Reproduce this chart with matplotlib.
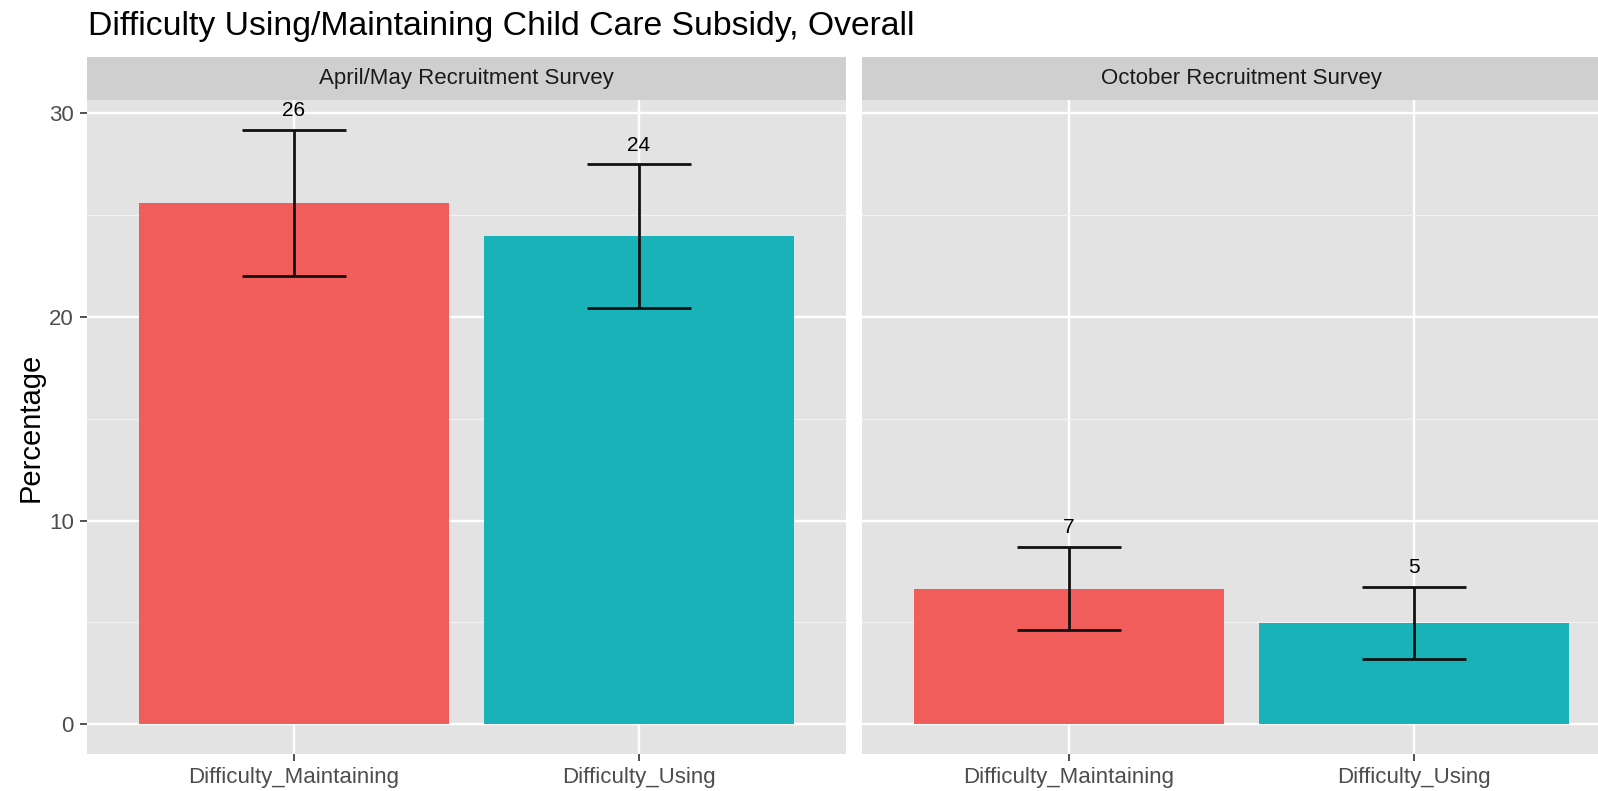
import matplotlib
matplotlib.use("Agg")
import matplotlib.pyplot as plt
import numpy as np

plt.rcParams['font.family'] = ['Liberation Sans', 'DejaVu Sans']

# ---- data ----
title = "Difficulty Using/Maintaining Child Care Subsidy, Overall"
panels = ["April/May Recruitment Survey", "October Recruitment Survey"]
categories = ["Difficulty_Maintaining", "Difficulty_Using"]
values = [[25.6, 24.0], [6.65, 4.95]]
lower = [[22.0, 20.45], [4.65, 3.2]]
upper = [[29.2, 27.5], [8.7, 6.75]]
labels = [["26", "24"], ["7", "5"]]
y_ticks = [0, 10, 20, 30]
y_minor = [5, 15, 25]
colors = ["#F05D5B", "#19B2B8"]

W, H = 1598, 791
fig = plt.figure(figsize=(W / 100, H / 100), dpi=100)
fig.patch.set_facecolor("white")

ymax_all = max(max(u) for u in upper)
ymin_all = 0
rng = ymax_all - ymin_all
ylim = (ymin_all - 0.05 * rng, ymax_all + 0.05 * rng)

panel_left = [87, 862]
panel_w = 759
panel_top, panel_bot = 100, 754
strip_top = 57

x = np.arange(len(categories))
for p, name in enumerate(panels):
    l = panel_left[p]
    ax = fig.add_axes([l / W, (H - panel_bot) / H, panel_w / W, (panel_bot - panel_top) / H])
    ax.set_facecolor("#E3E3E3")
    for s in ax.spines.values():
        s.set_visible(False)
    ax.set_xlim(-0.6, len(categories) - 0.4)
    ax.set_ylim(*ylim)
    ax.set_yticks(y_ticks)
    ax.set_yticks(y_minor, minor=True)
    ax.set_xticks(x)
    ax.set_xticklabels(categories)
    ax.grid(True, which="major", color="white", linewidth=1.7)
    ax.grid(True, which="minor", axis="y", color="#F2F2F2", linewidth=0.9)
    ax.set_axisbelow(True)
    ax.tick_params(axis="both", which="major", length=5, width=1.2, color="#333333",
                   labelsize=16, labelcolor="#4D4D4D", pad=4.5)
    ax.tick_params(axis="both", which="minor", length=0)
    if p == 0:
        ax.set_yticklabels([str(t) for t in y_ticks])
    else:
        ax.tick_params(axis="y", which="major", length=0, labelleft=False)

    ax.bar(x, values[p], width=0.9, color=colors, zorder=2)
    cap = 0.3
    ax.vlines(x, lower[p], upper[p], color="#111111", linewidth=2.0, zorder=3)
    ax.hlines(lower[p], x - cap / 2, x + cap / 2, color="#111111", linewidth=2.0, zorder=3)
    ax.hlines(upper[p], x - cap / 2, x + cap / 2, color="#111111", linewidth=2.0, zorder=3)
    for i in range(len(categories)):
        ax.annotate(labels[p][i], (x[i], upper[p][i]), xytext=(0, 7),
                    textcoords="offset points", ha="center", va="bottom",
                    fontsize=15, color="black", zorder=4)

    sax = fig.add_axes([l / W, (H - panel_top) / H, panel_w / W, (panel_top - strip_top) / H])
    sax.set_facecolor("#CFCFCF")
    for s in sax.spines.values():
        s.set_visible(False)
    sax.set_xticks([])
    sax.set_yticks([])
    sax.text(0.5, 0.5, name, transform=sax.transAxes, ha="center", va="center",
             fontsize=16, color="#1A1A1A")

fig.text(88 / W, 1 - 34.5 / H, title, ha="left", va="baseline", fontsize=24.3, color="black")
fig.text(31 / W, 1 - 427 / H, "Percentage", rotation=90, ha="center", va="center",
         fontsize=21, color="black")

fig.savefig("out.png", dpi=100, facecolor="white")
